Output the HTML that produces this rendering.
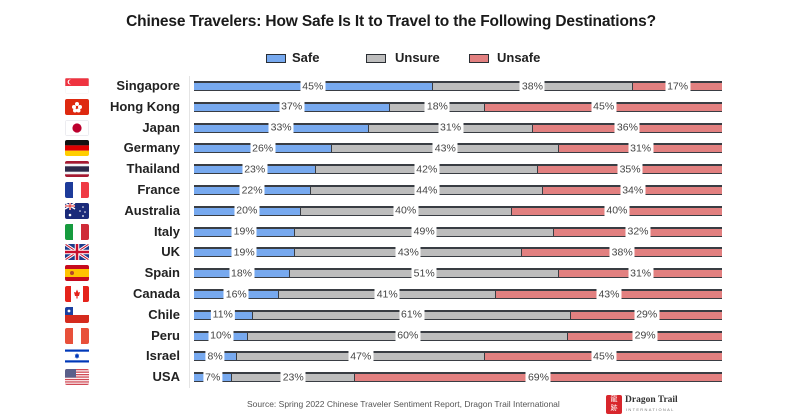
<!DOCTYPE html>
<html><head><meta charset="utf-8">
<style>
*{margin:0;padding:0;box-sizing:border-box}
body{width:800px;height:419px;background:#fff;position:relative;overflow:hidden;font-family:"Liberation Sans",sans-serif;color:#222}
.title{position:absolute;left:0;width:782px;top:13px;text-align:center;font-weight:bold;font-size:15.5px;letter-spacing:-0.15px;color:#1a1a1a}
.lg{position:absolute;top:54px;width:20px;height:9px;border:1.5px solid #2a2e33}
.lt{position:absolute;top:50px;font-size:13px;font-weight:bold;color:#222}
.axis{position:absolute;left:189px;top:76px;width:1px;height:312px;background:#e4e4e4}
.row{position:absolute;left:0;width:800px;height:20px}
.flag{position:absolute;left:65px;top:2px;width:24px;height:16px;border-radius:2px;overflow:hidden}
.name{position:absolute;right:620px;top:2px;font-size:13px;font-weight:bold;color:#222;white-space:nowrap}
.bar{position:absolute;left:194px;top:5px;width:528px;height:10px;display:flex}
.s{position:relative;height:10px;border-top:2px solid #393d43;border-bottom:1.5px solid #393d43}
.s+.s{border-left:1px solid #393d43}
.b{background:#77a9ef}.g{background:#bdbdbd}.r{background:#e28080}
.s span{position:absolute;left:50%;top:50%;transform:translate(-50%,-50%);background:#fff;padding:0 2px;font-size:10.5px;line-height:13px;color:#444;white-space:nowrap}
.src{position:absolute;left:247px;top:399px;font-size:8.5px;color:#555}
.logo{position:absolute;left:606px;top:395px;width:16px;height:19px;background:#d8262c;border-radius:2px;color:#fff;font-size:7px;line-height:9px;text-align:center;font-family:"Noto Sans CJK SC",sans-serif}
.lt1{position:absolute;left:625px;top:395px;font-family:"Liberation Serif",serif;font-weight:bold;font-size:9.5px;color:#333}
.lt2{position:absolute;left:626px;top:407px;font-size:4px;letter-spacing:1.3px;color:#777}
</style></head><body>
<div class="title">Chinese Travelers: How Safe Is It to Travel to the Following Destinations?</div>
<div class="lg" style="left:266px;background:#77a9ef"></div><div class="lt" style="left:292px">Safe</div>
<div class="lg" style="left:366px;background:#bdbdbd"></div><div class="lt" style="left:395px">Unsure</div>
<div class="lg" style="left:469px;background:#e28080"></div><div class="lt" style="left:497px">Unsafe</div>
<div class="axis"></div>

<div class="row" style="top:76px">
<svg class="flag" viewBox="0 0 24 16"><rect width="24" height="8" fill="#ef3340"/><rect y="8" width="24" height="8" fill="#fff"/><circle cx="5" cy="4" r="2.4" fill="#fff"/><circle cx="6" cy="4" r="2.2" fill="#ef3340"/><rect x="0" y="0" width="24" height="16" fill="none" stroke="#e5e5e5" stroke-width="0.6"/></svg>
<div class="name">Singapore</div>
<div class="bar"><div class="s b" style="width:45%"><span>45%</span></div><div class="s g" style="width:38%"><span>38%</span></div><div class="s r" style="width:17%"><span>17%</span></div></div></div>

<div class="row" style="top:96.8px">
<svg class="flag" viewBox="0 0 24 16"><rect width="24" height="16" fill="#de2910"/><g fill="#fff"><circle cx="12" cy="5" r="2"/><circle cx="15" cy="8" r="2"/><circle cx="13.5" cy="11.5" r="2"/><circle cx="10" cy="11.5" r="2"/><circle cx="9" cy="8" r="2"/></g></svg>
<div class="name">Hong Kong</div>
<div class="bar"><div class="s b" style="width:37%"><span>37%</span></div><div class="s g" style="width:18%"><span>18%</span></div><div class="s r" style="width:45%"><span>45%</span></div></div></div>

<div class="row" style="top:117.6px">
<svg class="flag" viewBox="0 0 24 16"><rect width="24" height="16" fill="#fff" stroke="#d8d8e0" stroke-width="1"/><circle cx="12" cy="8" r="4.6" fill="#bc002d"/></svg>
<div class="name">Japan</div>
<div class="bar"><div class="s b" style="width:33%"><span>33%</span></div><div class="s g" style="width:31%"><span>31%</span></div><div class="s r" style="width:36%"><span>36%</span></div></div></div>

<div class="row" style="top:138.4px">
<svg class="flag" viewBox="0 0 24 16"><rect width="24" height="5.4" fill="#111"/><rect y="5.4" width="24" height="5.3" fill="#dd0000"/><rect y="10.7" width="24" height="5.3" fill="#ffce00"/></svg>
<div class="name">Germany</div>
<div class="bar"><div class="s b" style="width:26%"><span>26%</span></div><div class="s g" style="width:43%"><span>43%</span></div><div class="s r" style="width:31%"><span>31%</span></div></div></div>

<div class="row" style="top:159.2px">
<svg class="flag" viewBox="0 0 24 16"><rect width="24" height="16" fill="#a51931"/><rect y="2.7" width="24" height="10.6" fill="#f4f5f8"/><rect y="5.3" width="24" height="5.4" fill="#2d2a4a"/></svg>
<div class="name">Thailand</div>
<div class="bar"><div class="s b" style="width:23%"><span>23%</span></div><div class="s g" style="width:42%"><span>42%</span></div><div class="s r" style="width:35%"><span>35%</span></div></div></div>

<div class="row" style="top:180px">
<svg class="flag" viewBox="0 0 24 16"><rect width="8" height="16" fill="#1d3b9a"/><rect x="8" width="8" height="16" fill="#fff"/><rect x="16" width="8" height="16" fill="#ef3a45"/></svg>
<div class="name">France</div>
<div class="bar"><div class="s b" style="width:22%"><span>22%</span></div><div class="s g" style="width:44%"><span>44%</span></div><div class="s r" style="width:34%"><span>34%</span></div></div></div>

<div class="row" style="top:200.8px">
<svg class="flag" viewBox="0 0 24 16"><rect width="24" height="16" fill="#1a2a7a"/><path d="M0 0L10 6M10 0L0 6" stroke="#fff" stroke-width="1.5"/><path d="M5 0V7M0 3H10" stroke="#fff" stroke-width="2"/><path d="M5 0V7M0 3H10" stroke="#d22" stroke-width="1"/><g fill="#fff"><circle cx="5" cy="12" r="1.3"/><circle cx="18" cy="4" r="0.8"/><circle cx="15" cy="8" r="0.8"/><circle cx="20" cy="9" r="0.8"/><circle cx="18" cy="13" r="0.9"/></g></svg>
<div class="name">Australia</div>
<div class="bar"><div class="s b" style="width:20%"><span>20%</span></div><div class="s g" style="width:40%"><span>40%</span></div><div class="s r" style="width:40%"><span>40%</span></div></div></div>

<div class="row" style="top:221.6px">
<svg class="flag" viewBox="0 0 24 16"><rect width="8" height="16" fill="#169b3e"/><rect x="8" width="8" height="16" fill="#fff"/><rect x="16" width="8" height="16" fill="#cf2b37"/></svg>
<div class="name">Italy</div>
<div class="bar"><div class="s b" style="width:19%"><span>19%</span></div><div class="s g" style="width:49%"><span>49%</span></div><div class="s r" style="width:32%"><span>32%</span></div></div></div>

<div class="row" style="top:242.4px">
<svg class="flag" viewBox="0 0 24 16"><rect width="24" height="16" fill="#1e3b8a"/><path d="M0 0L24 16M24 0L0 16" stroke="#fff" stroke-width="3"/><path d="M0 0L24 16M24 0L0 16" stroke="#c8102e" stroke-width="1"/><path d="M12 0V16M0 8H24" stroke="#fff" stroke-width="4.5"/><path d="M12 0V16M0 8H24" stroke="#c8102e" stroke-width="2.5"/></svg>
<div class="name">UK</div>
<div class="bar"><div class="s b" style="width:19%"><span>19%</span></div><div class="s g" style="width:43%"><span>43%</span></div><div class="s r" style="width:38%"><span>38%</span></div></div></div>

<div class="row" style="top:263.2px">
<svg class="flag" viewBox="0 0 24 16"><rect width="24" height="16" fill="#c60b1e"/><rect y="4" width="24" height="8" fill="#ffc400"/><circle cx="7" cy="8" r="2" fill="#b5452a"/></svg>
<div class="name">Spain</div>
<div class="bar"><div class="s b" style="width:18%"><span>18%</span></div><div class="s g" style="width:51%"><span>51%</span></div><div class="s r" style="width:31%"><span>31%</span></div></div></div>

<div class="row" style="top:284px">
<svg class="flag" viewBox="0 0 24 16"><rect width="24" height="16" fill="#fff"/><rect width="6" height="16" fill="#e5231b"/><rect x="18" width="6" height="16" fill="#e5231b"/><path d="M12 3.5L13.3 6.5L15 6L14 10H12.6V12.5H11.4V10H10L9 6L10.7 6.5Z" fill="#e5231b"/></svg>
<div class="name">Canada</div>
<div class="bar"><div class="s b" style="width:16%"><span>16%</span></div><div class="s g" style="width:41%"><span>41%</span></div><div class="s r" style="width:43%"><span>43%</span></div></div></div>

<div class="row" style="top:304.8px">
<svg class="flag" viewBox="0 0 24 16"><rect width="24" height="8" fill="#fff"/><rect y="8" width="24" height="8" fill="#d52b1e"/><rect width="8" height="8" fill="#1b3fa0"/><circle cx="4" cy="4" r="1.4" fill="#fff"/></svg>
<div class="name">Chile</div>
<div class="bar"><div class="s b" style="width:10.9%"><span>11%</span></div><div class="s g" style="width:60.4%"><span>61%</span></div><div class="s r" style="width:28.7%"><span>29%</span></div></div></div>

<div class="row" style="top:325.6px">
<svg class="flag" viewBox="0 0 24 16"><rect width="8" height="16" fill="#e8503a"/><rect x="8" width="8" height="16" fill="#fff"/><rect x="16" width="8" height="16" fill="#e8503a"/></svg>
<div class="name">Peru</div>
<div class="bar"><div class="s b" style="width:10.1%"><span>10%</span></div><div class="s g" style="width:60.6%"><span>60%</span></div><div class="s r" style="width:29.3%"><span>29%</span></div></div></div>

<div class="row" style="top:346.4px">
<svg class="flag" viewBox="0 0 24 16"><rect width="24" height="16" fill="#fff"/><rect y="1.5" width="24" height="2.2" fill="#0038b8"/><rect y="12.3" width="24" height="2.2" fill="#0038b8"/><path d="M12 5L14.3 9.5H9.7ZM12 11L9.7 6.5H14.3Z" fill="#0038b8"/></svg>
<div class="name">Israel</div>
<div class="bar"><div class="s b" style="width:8%"><span>8%</span></div><div class="s g" style="width:47%"><span>47%</span></div><div class="s r" style="width:45%"><span>45%</span></div></div></div>

<div class="row" style="top:367.2px">
<svg class="flag" viewBox="0 0 24 16"><rect width="24" height="16" fill="#fff"/><g fill="#d04a55"><rect y="0" width="24" height="1.3"/><rect y="2.5" width="24" height="1.3"/><rect y="5" width="24" height="1.3"/><rect y="7.4" width="24" height="1.3"/><rect y="9.9" width="24" height="1.3"/><rect y="12.3" width="24" height="1.3"/><rect y="14.7" width="24" height="1.3"/></g><rect width="11" height="8.6" fill="#5a5f8a"/></svg>
<div class="name">USA</div>
<div class="bar"><div class="s b" style="width:7.1%"><span>7%</span></div><div class="s g" style="width:23.2%"><span>23%</span></div><div class="s r" style="width:69.7%"><span>69%</span></div></div></div>

<div class="src">Source: Spring 2022 Chinese Traveler Sentiment Report, Dragon Trail International</div>
<div class="logo">龍<br>跡</div>
<div class="lt1">Dragon Trail</div>
<div class="lt2">INTERNATIONAL</div>
</body></html>
